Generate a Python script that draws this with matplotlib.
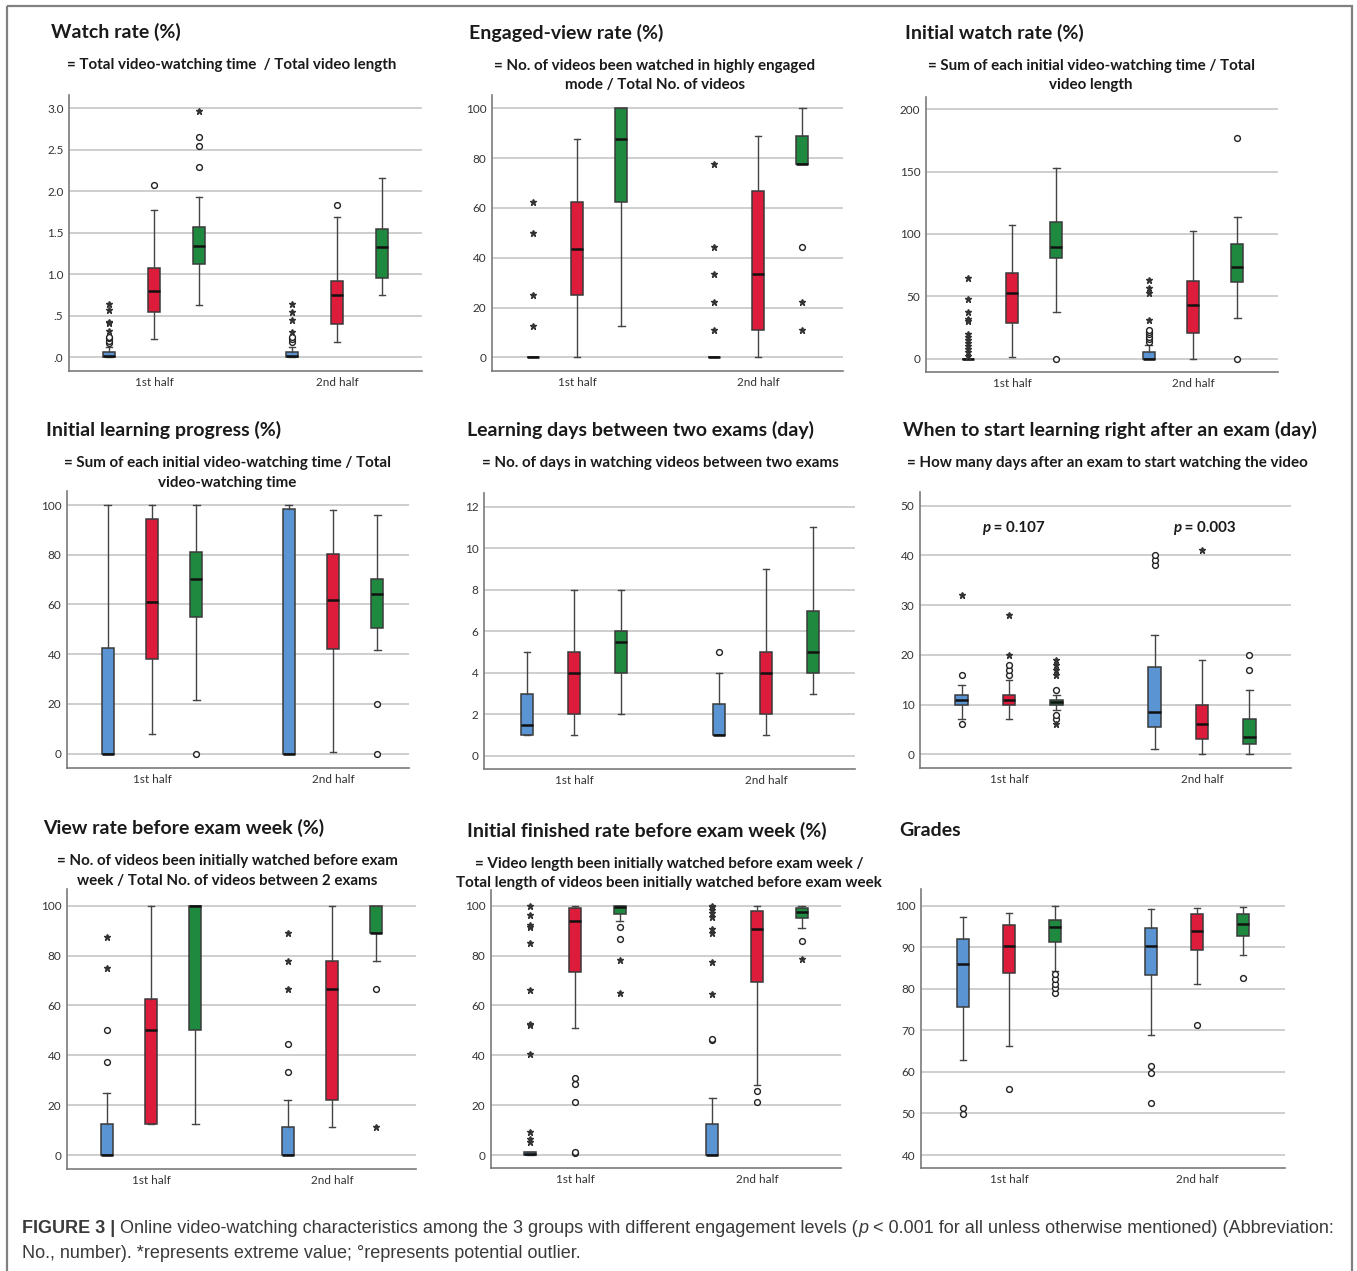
import matplotlib.pyplot as plt
from matplotlib.patches import Rectangle

plt.rcParams['font.family'] = 'Lato'

W, H = 1357, 1271

group_colors = ['#5b94d3', '#dc1c3a', '#1f8a3f']
halves = ['1st half', '2nd half']

# each box: (whisker low, Q1, median, Q3, whisker high)
# order: blue, red, green for the 1st half, then the same for the 2nd half
watch_box = [(0, 0, 0.01, 0.06, 0.13), (0.22, 0.54, 0.80, 1.07, 1.78), (0.63, 1.13, 1.34, 1.57, 1.93),
             (0, 0, 0.01, 0.06, 0.13), (0.18, 0.40, 0.75, 0.92, 1.69), (0.75, 0.96, 1.33, 1.55, 2.16)]
watch_out = [[0.17, 0.20, 0.23, 0.25], [2.07], [2.29, 2.55, 2.65], [0.19, 0.22, 0.24], [1.84], []]
watch_ext = [[0.32, 0.41, 0.43, 0.57, 0.64], [], [2.97], [0.31, 0.45, 0.55, 0.64], [], []]
watch_ticks = [0, 0.5, 1, 1.5, 2, 2.5, 3]
watch_labels = ['.0', '.5', '1.0', '1.5', '2.0', '2.5', '3.0']

engaged_box = [(0, 0, 0, 0, 0), (0, 25, 43.6, 62.5, 87.5), (12.5, 62.5, 87.5, 100, 100),
               (0, 0, 0, 0, 0), (0, 11.1, 33.3, 66.7, 88.9), (77.8, 77.8, 77.8, 88.9, 100)]
engaged_out = [[], [], [], [], [], [44.4]]
engaged_ext = [[12.5, 25, 50, 62.5], [], [], [11.1, 22.2, 33.3, 44.4, 77.8], [], [11.1, 22.2]]
engaged_ticks = [0, 20, 40, 60, 80, 100]

initwatch_box = [(0, 0, 0, 0, 0), (1.6, 28.3, 52.4, 69, 107), (37.4, 80.5, 89.8, 109.6, 152.7),
                 (0, 0, 0, 5.6, 11), (0, 20.9, 42.8, 62.6, 102.4), (32.4, 61.5, 73.8, 92, 113.9)]
initwatch_out = [[], [], [0], [13.5, 15.5, 17.5, 19.5, 21.5, 23], [], [0, 177]]
initwatch_ext = [[2.5, 5, 7.5, 10, 12.5, 15, 17.5, 20, 30.5, 31.5, 37.5, 47.5, 64.4], [], [],
                 [31, 53, 57, 63], [], []]
initwatch_ticks = [0, 50, 100, 150, 200]

progress_box = [(0, 0, 0, 42.6, 100), (7.9, 38, 60.9, 94.2, 100), (21.6, 55.1, 70.4, 81.2, 100),
                (0, 0, 0, 98.3, 100), (0.5, 42.2, 61.9, 80.4, 97.9), (41.6, 50.7, 64.2, 70.4, 95.8)]
progress_out = [[], [], [0], [], [], [0, 20]]
progress_ext = [[], [], [], [], [], []]
progress_ticks = [0, 20, 40, 60, 80, 100]

days_box = [(1, 1, 1.5, 3, 5), (1, 2, 4, 5, 8), (2, 4, 5.5, 6, 8),
            (1, 1, 1, 2.5, 4), (1, 2, 4, 5, 9), (3, 4, 5, 7, 11)]
days_out = [[], [], [], [5], [], []]
days_ext = [[], [], [], [], [], []]
days_ticks = [0, 2, 4, 6, 8, 10, 12]

start_box = [(7, 10, 11, 12, 14), (7, 10, 11, 12, 15), (9, 10, 10.6, 11, 12),
             (1, 5.5, 8.5, 17.5, 24), (0, 3, 6, 10, 19), (0, 2, 3.5, 7, 13)]
start_out = [[6, 16], [16, 17, 18], [7, 8, 13], [38, 39, 40], [], [17, 20]]
start_ext = [[32], [20, 28], [6, 16, 17, 18, 19], [], [41], []]
start_ticks = [0, 10, 20, 30, 40, 50]
start_p = ['0.107', '0.003']

viewrate_box = [(0, 0, 0, 12.5, 25), (12.5, 12.5, 50, 62.5, 100), (12.5, 50, 100, 100, 100),
                (0, 0, 0, 11.1, 22.2), (11.1, 22.2, 66.7, 77.8, 100), (77.8, 88.9, 88.9, 100, 100)]
viewrate_out = [[37.5, 50], [], [], [33.3, 44.4], [], [66.7]]
viewrate_ext = [[75, 87.5], [], [], [66.7, 77.8, 88.9], [], [11.1]]
viewrate_ticks = [0, 20, 40, 60, 80, 100]

finished_box = [(0, 0, 0.5, 1.2, 1.2), (51.1, 73.5, 94, 98.9, 100), (93.9, 96.5, 99.5, 100, 100),
                (0, 0, 0, 12.4, 23), (27.9, 69.3, 90.8, 98, 100), (91, 95, 97.6, 99.2, 100)]
finished_out = [[], [0.7, 1.3, 21.4, 28.5, 30.7], [86.8, 91.6], [46, 46.7], [21.4, 25.5], [86]]
finished_ext = [[5.3, 6.4, 9.4, 40.4, 52, 52.7, 66, 85.2, 91.6, 92.2, 96.3, 99.9], [], [64.8, 78.2],
                [64.4, 77.5, 89, 90.5, 95.6, 97, 98.3, 99.3, 99.9], [], [78.7]]
finished_ticks = [0, 20, 40, 60, 80, 100]

grades_box = [(62.9, 75.7, 85.9, 92, 97.3), (66.3, 83.7, 90.3, 95.4, 98.3), (84.3, 91.3, 94.9, 96.5, 100),
              (68.8, 83.3, 90.2, 94.7, 99.1), (81.2, 89.3, 94, 97.9, 99.5), (88.2, 92.8, 95.5, 97.9, 99.6)]
grades_out = [[49.8, 51.3], [55.9], [79.1, 80.3, 81.1, 82.3, 83.5], [52.6, 59.8, 61.3], [71.3], [82.7]]
grades_ext = [[], [], [], [], [], []]
grades_ticks = [40, 50, 60, 70, 80, 90, 100]

# panel layout in pixels: axes box (left, top, right, bottom), x of the two group centres,
# two reference ticks with their pixel rows, title and subtitle placement
panels = [
    dict(box=watch_box, out=watch_out, ext=watch_ext, ticks=watch_ticks, labels=watch_labels,
         ax=(69, 95, 422, 371), cx=(154, 337), ref=((0, 357.3), (3, 108.3)),
         title='Watch rate (%)', tpos=(51, 32),
         sub=['= Total video-watching time  / Total video length'], spos=(232, 65)),
    dict(box=engaged_box, out=engaged_out, ext=engaged_ext, ticks=engaged_ticks,
         ax=(492, 95, 843, 371), cx=(577, 758), ref=((0, 357.3), (100, 108.3)),
         title='Engaged-view rate (%)', tpos=(469, 33),
         sub=['= No. of videos been watched in highly engaged', 'mode / Total No. of videos'], spos=(655, 66)),
    dict(box=initwatch_box, out=initwatch_out, ext=initwatch_ext, ticks=initwatch_ticks,
         ax=(926, 97, 1278, 372), cx=(1012, 1193), ref=((0, 358.7), (200, 109.3)),
         title='Initial watch rate (%)', tpos=(905, 33),
         sub=['= Sum of each initial video-watching time / Total', 'video length'], spos=(1091, 66)),
    dict(box=progress_box, out=progress_out, ext=progress_ext, ticks=progress_ticks,
         ax=(67, 491, 409, 768), cx=(152, 333), ref=((0, 753.7), (100, 505)),
         title='Initial learning progress (%)', tpos=(46, 430),
         sub=['= Sum of each initial video-watching time / Total', 'video-watching time'], spos=(227, 463)),
    dict(box=days_box, out=days_out, ext=days_ext, ticks=days_ticks,
         ax=(484, 493, 855, 769), cx=(574, 766), ref=((0, 756), (12, 506.7)),
         title='Learning days between two exams (day)', tpos=(467, 430),
         sub=['= No. of days in watching videos between two exams'], spos=(660, 463)),
    dict(box=start_box, out=start_out, ext=start_ext, ticks=start_ticks,
         ax=(920, 492, 1291, 768), cx=(1009, 1202), ref=((0, 754.3), (50, 505.7)),
         title='When to start learning right after an exam (day)', tpos=(903, 430),
         sub=['= How many days after an exam to start watching the video'], spos=(1107, 463)),
    dict(box=viewrate_box, out=viewrate_out, ext=viewrate_ext, ticks=viewrate_ticks,
         ax=(67, 889, 416, 1169), cx=(151, 332), ref=((0, 1155), (100, 905.7)),
         title='View rate before exam week (%)', tpos=(43, 828),
         sub=['= No. of videos been initially watched before exam',
              'week / Total No. of videos between 2 exams'], spos=(227, 861)),
    dict(box=finished_box, out=finished_out, ext=finished_ext, ticks=finished_ticks,
         ax=(491, 890, 841, 1168), cx=(575, 757), ref=((0, 1155), (100, 905.7)),
         title='Initial finished rate before exam week (%)', tpos=(467, 831),
         sub=['= Video length been initially watched before exam week /',
              'Total length of videos been initially watched before exam week'], spos=(669, 864)),
    dict(box=grades_box, out=grades_out, ext=grades_ext, ticks=grades_ticks,
         ax=(921, 889, 1285, 1168), cx=(1009, 1197), ref=((40, 1155), (100, 905.7)),
         title='Grades', tpos=(899, 831), sub=[], spos=(0, 0)),
]

fig = plt.figure(figsize=(W / 100, H / 100), dpi=100)
# transparent overlay in pixel coordinates for titles, notes and the frame
canvas = fig.add_axes([0, 0, 1, 1], zorder=10)
canvas.set_xlim(0, W)
canvas.set_ylim(H, 0)
canvas.axis('off')

canvas.add_patch(Rectangle((7, 6), 1345, 1280, fill=False, edgecolor='#808080', lw=1.6, clip_on=False))

offset = 0.245
for p in panels:
    l, t, r, b = p['ax']
    ax = fig.add_axes([l / W, 1 - b / H, (r - l) / W, (b - t) / H])
    c1, c2 = p['cx']
    sep = c2 - c1
    ax.set_xlim((l - c1) / sep, (r - c1) / sep)
    (v0, p0), (v1, p1) = p['ref']
    scale = (v1 - v0) / (p0 - p1)
    ax.set_ylim(v0 - (b - p0) * scale, v0 + (p0 - t) * scale)

    positions = [g + k * offset for g in (0, 1) for k in (-1, 0, 1)]
    stats = []
    for (lo, q1, med, q3, hi), fl in zip(p['box'], p['out']):
        stats.append(dict(whislo=lo, q1=q1, med=med, q3=q3, whishi=hi, fliers=fl))
    parts = ax.bxp(stats, positions=positions, widths=0.065, capwidths=0.035,
                   patch_artist=True, showfliers=True,
                   boxprops=dict(edgecolor='#3a3a3a', lw=1.1),
                   medianprops=dict(color='#111111', lw=1.8),
                   whiskerprops=dict(color='#444444', lw=1.0),
                   capprops=dict(color='#444444', lw=1.0),
                   flierprops=dict(marker='o', mfc='white', mec='#222222', ms=4.2, mew=1.0))
    for i, patch in enumerate(parts['boxes']):
        patch.set_facecolor(group_colors[i % 3])
    for pos, vals in zip(positions, p['ext']):
        if vals:
            ax.plot([pos] * len(vals), vals, ls='none', marker='*', ms=4.5, color='#333333', zorder=4)

    ax.set_yticks(p['ticks'])
    if 'labels' in p:
        ax.set_yticklabels(p['labels'])
    ax.set_xticks([0, 1], halves)
    ax.tick_params(axis='both', length=0, labelsize=8.5, labelcolor='#333333')
    ax.tick_params(axis='y', pad=4)
    ax.tick_params(axis='x', pad=4)
    ax.yaxis.grid(True, color='#c6c6c6', lw=1.2)
    ax.set_axisbelow(True)
    for side in ('top', 'right'):
        ax.spines[side].set_visible(False)
    for side in ('left', 'bottom'):
        ax.spines[side].set_color('#7a7a7a')
        ax.spines[side].set_linewidth(1.2)

    canvas.text(p['tpos'][0], p['tpos'][1], p['title'], fontsize=14, fontweight='bold',
                color='#1a1a1a', ha='left', va='center')
    sx, sy = p['spos']
    for j, line in enumerate(p['sub']):
        canvas.text(sx, sy + j * 19.5, line, fontsize=10.9, fontweight='bold',
                    color='#1a1a1a', ha='center', va='center')


def rich(x, y, pieces, size, color):
    # lay text pieces end to end on one line
    prev = None
    for s, style in pieces:
        if prev is None:
            prev = canvas.text(x, y, s, fontsize=size, color=color, ha='left', va='bottom', **style)
        else:
            prev = canvas.annotate(s, xy=(1, 0), xycoords=prev, fontsize=size, color=color,
                                   ha='left', va='bottom', **style)
    return prev


for (px, py), val in zip([(982, 535), (1173, 535)], start_p):
    rich(px, py, [('p', dict(fontweight='bold', fontstyle='italic')),
                  (' = ' + val, dict(fontweight='bold'))], 10.9, '#1a1a1a')

cap = dict(family='Liberation Sans')
rich(22, 1237, [('FIGURE 3 | ', dict(fontweight='bold', **cap)),
                ('Online video-watching characteristics among the 3 groups with different engagement levels (',
                 dict(**cap)),
                ('p', dict(fontstyle='italic', **cap)),
                (' < 0.001 for all unless otherwise mentioned) (Abbreviation:', dict(**cap))],
     13, '#3a3a3a')
rich(22, 1262, [('No., number). *represents extreme value; °represents potential outlier.', dict(**cap))],
     13, '#3a3a3a')

fig.savefig('out.png', dpi=100)
